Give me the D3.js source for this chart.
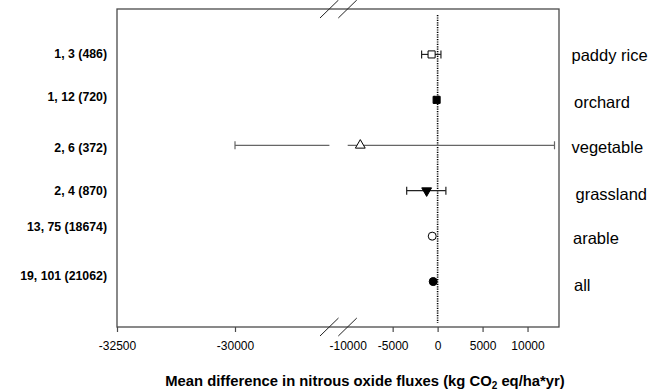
<!DOCTYPE html>
<html>
<head>
<meta charset="utf-8">
<script src="https://cdn.jsdelivr.net/npm/d3@7"></script>
<style>
  body { margin: 0; background: #fff; }
  text { font-family: Arial, "Liberation Sans", sans-serif; }
</style>
</head>
<body>
<div id="chart"></div>
<script>
// land use categories, top to bottom
const categories = ["paddy rice", "orchard", "vegetable", "grassland", "arable", "all"];
// studies, observations (n) labels
const studyLabels = ["1, 3 (486)", "1, 12 (720)", "2, 6 (372)", "2, 4 (870)", "13, 75 (18674)", "19, 101 (21062)"];
// mean difference and 95% CI (kg CO2 eq/ha*yr)
const means = [-670, -110, -8600, -1220, -600, -490];
const lower = [-1780, -350, -30000, -3440, -720, -620];
const upper = [370, 120, 13000, 920, -480, -360];
const markers = ["squareOpen", "squareFilled", "triangleOpen", "triangleDownFilled", "circleOpen", "circleFilled"];
// tick labels of the broken axis
const leftTicks = [-32500, -30000];
const rightTicks = [-10000, -5000, 0, 5000, 10000];

const width = 654, height = 392;
const plot = {left: 117, right: 559, top: 9, bottom: 327};
const gapL = 329.4, gapR = 347.7;

const svg = d3.select("#chart").append("svg")
    .attr("width", width)
    .attr("height", height);

// two pieces of the broken x axis
const xLeft = d3.scaleLinear().domain([-32500, -28000]).range([plot.left, gapL]);
const xRight = d3.scaleLinear().domain([-10000, 13500]).range([gapR, plot.right]);
const x = v => v < -10000 ? xLeft(v) : xRight(v);

const y = d3.scaleLinear().domain([0, 7]).range([plot.top, plot.bottom]);

const axisColor = "#4a4a4a";
const plain = d => String(d);

// box
svg.append("rect")
    .attr("x", plot.left).attr("y", plot.top)
    .attr("width", plot.right - plot.left).attr("height", plot.bottom - plot.top)
    .style("fill", "none").style("stroke", axisColor).style("stroke-width", 1.3);

// axes
const gl = svg.append("g")
    .attr("transform", "translate(0," + plot.bottom + ")")
    .call(d3.axisBottom(xLeft).tickValues(leftTicks).tickSize(5).tickPadding(9).tickFormat(plain));
const gr = svg.append("g")
    .attr("transform", "translate(0," + plot.bottom + ")")
    .call(d3.axisBottom(xRight).tickValues(rightTicks).tickSize(5).tickPadding(9).tickFormat(plain));
[gl, gr].forEach(function(g) {
    g.select(".domain").remove();
    g.selectAll("line").style("stroke", axisColor).style("stroke-width", 1.2);
    g.selectAll("text").style("font-size", "12px").style("fill", "#000")
        .style("font-family", "Arial, 'Liberation Sans', sans-serif");
});
gr.selectAll(".tick").filter(d => d === -10000).select("line").remove();

// break marks
[plot.top, plot.bottom].forEach(function(yy) {
    [320, 338.3].forEach(function(x0) {
        svg.append("line")
            .attr("x1", x0).attr("y1", yy + 9)
            .attr("x2", x0 + 18.5).attr("y2", yy - 9)
            .style("stroke", "#222").style("stroke-width", 1);
    });
});

// zero reference line
svg.append("line")
    .attr("x1", x(0)).attr("x2", x(0))
    .attr("y1", 15).attr("y2", 323)
    .style("stroke", "#000").style("stroke-width", 1.6)
    .style("stroke-dasharray", "1.2,1.2");

const rows = categories.map(function(c, i) {
    return {cat: c, label: studyLabels[i], mean: means[i], lo: lower[i], hi: upper[i], marker: markers[i], yi: i + 1};
});

// error bars, split across the break where needed
rows.forEach(function(d) {
    const cy = y(d.yi);
    const col = d.cat === "vegetable" ? "#666" : "#222";
    const segs = d.lo < -10000
        ? [[x(d.lo), gapL], [gapR, x(d.hi)]]
        : [[x(d.lo), x(d.hi)]];
    segs.forEach(function(s) {
        svg.append("line").attr("x1", s[0]).attr("x2", s[1]).attr("y1", cy).attr("y2", cy)
            .style("stroke", col).style("stroke-width", 1.2);
    });
    [x(d.lo), x(d.hi)].forEach(function(cx) {
        svg.append("line").attr("x1", cx).attr("x2", cx).attr("y1", cy - 4).attr("y2", cy + 4)
            .style("stroke", col).style("stroke-width", 1.2);
    });
});

// markers
const sym = {
    squareOpen: [d3.symbolSquare, 0, false],
    squareFilled: [d3.symbolSquare, 0, true],
    triangleOpen: [d3.symbolTriangle, 0, false],
    triangleDownFilled: [d3.symbolTriangle, 180, true],
    circleOpen: [d3.symbolCircle, 0, false],
    circleFilled: [d3.symbolCircle, 0, true]
};
rows.forEach(function(d) {
    const s = sym[d.marker];
    svg.append("path")
        .attr("d", d3.symbol().type(s[0]).size(s[0] === d3.symbolTriangle ? 42 : 50)())
        .attr("transform", "translate(" + x(d.mean) + "," + y(d.yi) + ") rotate(" + s[1] + ")")
        .style("fill", s[2] ? "#000" : "#fff")
        .style("stroke", "#000").style("stroke-width", 1);
});

// study count labels on the left
const labelShift = [-1, -3.5, 2, 0, -9, -5.5];
svg.selectAll(".study")
    .data(rows)
    .enter().append("text")
    .attr("class", "study")
    .attr("x", 107)
    .attr("y", (d, i) => y(d.yi) + labelShift[i])
    .attr("dy", ".35em")
    .style("text-anchor", "end")
    .style("font-size", "12.3px")
    .style("font-weight", "bold")
    .text(d => d.label);

// category names on the right
const catShift = [[0, 1], [2.5, 2], [0, 1.5], [4, 4], [1.5, 2], [2.5, 3.5]];
svg.selectAll(".cat")
    .data(rows)
    .enter().append("text")
    .attr("class", "cat")
    .attr("x", (d, i) => 571.5 + catShift[i][0])
    .attr("y", (d, i) => y(d.yi) + catShift[i][1])
    .attr("dy", ".35em")
    .style("font-size", "16.5px")
    .text(d => d.cat);

// x axis title
const title = svg.append("text")
    .attr("x", 365)
    .attr("y", 386)
    .style("text-anchor", "middle")
    .style("font-size", "14.8px")
    .style("font-weight", "bold");
title.append("tspan").text("Mean difference in nitrous oxide fluxes (kg CO");
title.append("tspan").attr("dy", 2.5).style("font-size", "10px").text("2");
title.append("tspan").attr("dy", -2.5).text(" eq/ha*yr)");
</script>
</body>
</html>
